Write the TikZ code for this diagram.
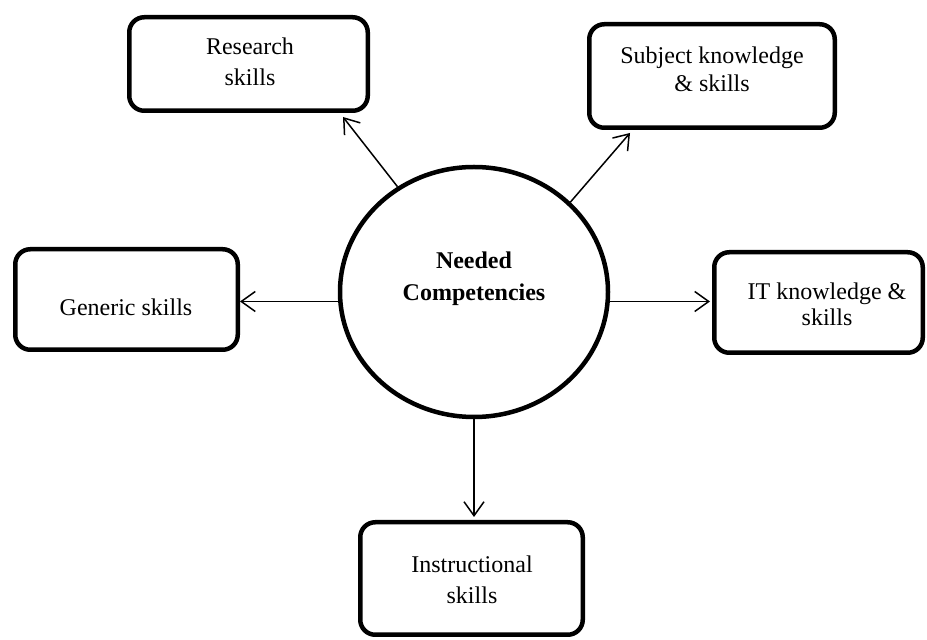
\documentclass[tikz,border=0pt]{standalone}
\usepackage{fontspec}
\setmainfont{Liberation Serif}
\usetikzlibrary{arrows.meta,shapes.geometric}
\begin{document}
\begin{tikzpicture}[x=1pt,y=1pt,
  box/.style={draw, line width=4.5pt, rounded corners=15pt, inner sep=0pt},
  lbl/.style={align=center, inner sep=0pt, font=\fontsize{24}{31}\selectfont},
  arr/.style={line width=1.5pt, -{Straight Barb[length=14pt,width=20pt,line width=1.5pt]}}]
\useasboundingbox (0,0) rectangle (927,640);
% central ellipse
\node[ellipse, draw, line width=4.5pt, minimum width=268pt, minimum height=250pt, inner sep=0pt] (c) at (474,348) {};
\node[lbl, font=\bfseries\fontsize{24}{32}\selectfont] (ct) at (474,361.5) {Needed\\Competencies};
% boxes
\node[box, minimum width=238.5pt, minimum height=93.5pt] (research) at (248.5,576) {};
\node[box, minimum width=245.5pt, minimum height=103.5pt] (subject) at (712,564) {};
\node[box, minimum width=222.5pt, minimum height=100.5pt] (generic) at (126.5,340.5) {};
\node[box, minimum width=208.5pt, minimum height=100.5pt] (it) at (818.5,337.5) {};
\node[box, minimum width=222.5pt, minimum height=112.5pt] (instr) at (471.5,61.5) {};
% labels
\node[lbl] (researcht) at (250,578) {Research\\skills};
\node[lbl, font=\fontsize{24}{28}\selectfont] (subjectt) at (712,571) {Subject knowledge\\\& skills};
\node[lbl] (generict) at (126,333) {Generic skills};
\node[lbl, font=\fontsize{24}{26}\selectfont] (itt) at (827,335.5) {IT knowledge \&\\skills};
\node[lbl] (instrt) at (472,60.5) {Instructional\\skills};
% connectors
\draw[arr] (c.126) -- ([xshift=-27pt,yshift=-4pt]research.south east);
\draw[arr] (c.43) -- ([xshift=43pt,yshift=-3pt]subject.south west);
\draw[arr] (c.184) -- (c.184 -| generic.east);
\draw[arr] (c.-4) -- ([xshift=-2pt]c.-4 -| it.west);
\draw[arr] (c.south) -- ([yshift=3pt]c.south |- instr.north);
\end{tikzpicture}
\end{document}
